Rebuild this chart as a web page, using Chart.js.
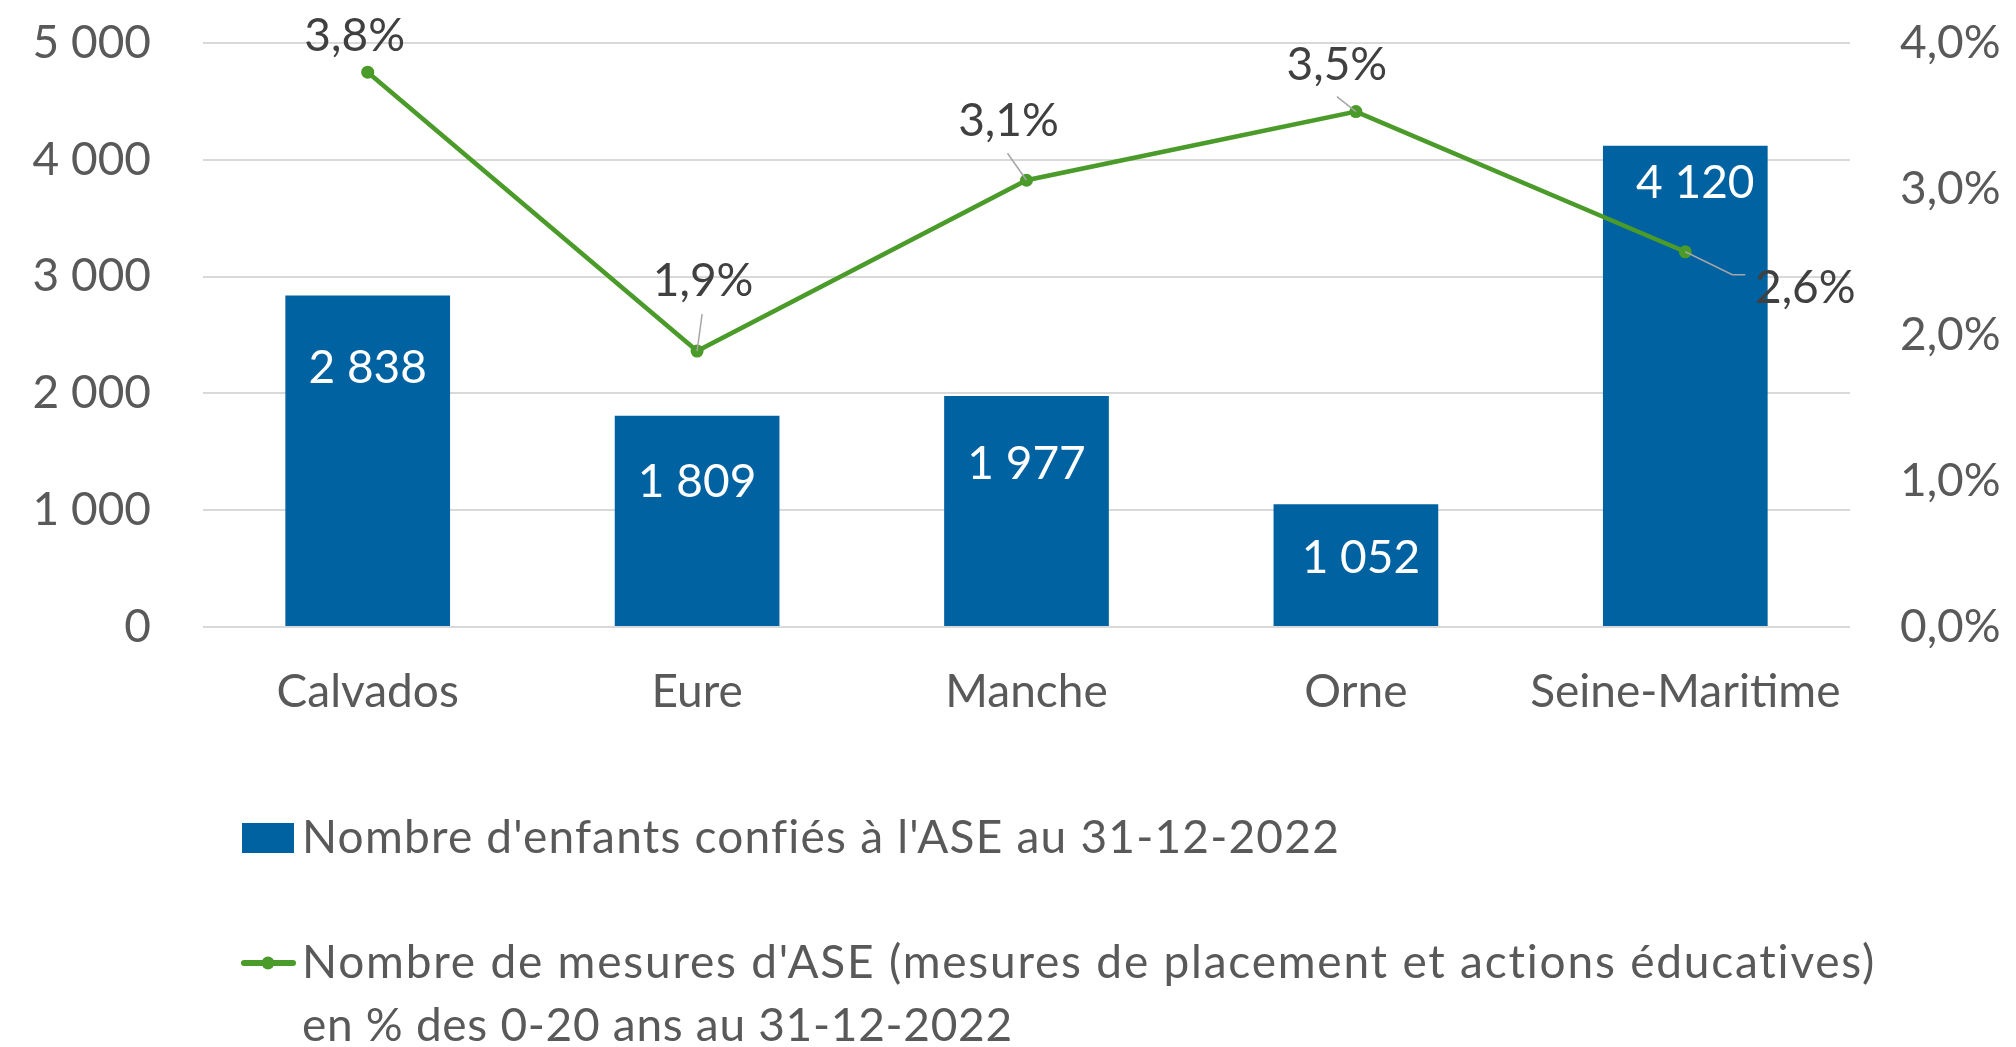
<!DOCTYPE html>
<html lang="fr">
<head>
<meta charset="utf-8">
<title>ASE Normandie</title>
<script src="https://cdn.jsdelivr.net/npm/chart.js@4.4.1/dist/chart.umd.min.js"></script>
<style>
  html, body { margin: 0; padding: 0; background: #ffffff; overflow: hidden; }
  #wrap { width: 2016px; height: 1047px; position: relative; }
  canvas { display: block; }
</style>
</head>
<body>
<div id="wrap"><canvas id="c" width="2016" height="1047"></canvas></div>
<script>
// ---------- DATA ----------
const categories = ['Calvados', 'Eure', 'Manche', 'Orne', 'Seine-Maritime'];
const enfantsConfies = [2838, 1809, 1977, 1052, 4120];
const tauxMesures = [3.8, 1.89, 3.06, 3.53, 2.57]; // en %
const leftTickValues = [0, 1000, 2000, 3000, 4000, 5000];
const rightTickValues = [0, 1, 2, 3, 4];
const barSeriesLabel = "Nombre d'enfants confiés à l'ASE au 31-12-2022";
const lineSeriesLabel = [
  "Nombre de mesures d'ASE (mesures de placement et actions éducatives)",
  "en % des 0-20 ans au 31-12-2022"
];

// ---------- STYLE ----------
const FONT = 'Lato, "Open Sans", sans-serif';
const FONT_SIZE = 46;
const CAP = 33;
const BLUE = '#0062a0';
const GREEN = '#4a9b29';
const AXIS_TEXT = '#595959';
const LABEL_TEXT = '#404040';
const GRID = '#d9d9d9';
// label placement (dx, dy) in pixels
const barLabelOffsets = [[0, 71], [0, 65], [0, 66], [5, 52], [10, 36]];
const lineLabelOffsets = [[-13, -38], [6, -72], [-18, -61], [-19, -48], [120, 35]];
const leaderLines = [null, [[5, -37]], [[-19, -27]], [[-19, -15]], [[47, 23], [60, 23]]];
// legend text boxes: [x, baseline, target width]
const legendTextBoxes = [[302, 853, 1037], [302, 978, 1576], [302, 1041, 711]];

const fmtInt = v => String(v).replace(/\B(?=(\d{3})+(?!\d))/g, ' ');
const fmtPct = v => Number(v).toFixed(1).replace('.', ',') + '%';

function fitText(ctx, text, x, y, width) {
  ctx.save();
  const w0 = ctx.measureText(text).width;
  if ('letterSpacing' in ctx) {
    ctx.letterSpacing = ((width - w0) / text.length).toFixed(2) + 'px';
    ctx.fillText(text, x, y);
  } else {
    ctx.translate(x, y);
    ctx.scale(width / w0, 1);
    ctx.fillText(text, 0, 0);
  }
  ctx.restore();
}

const labelPlugin = {
  id: 'customLabels',
  afterDatasetsDraw(chart) {
    const ctx = chart.ctx;
    ctx.save();
    ctx.font = FONT_SIZE + 'px ' + FONT;
    ctx.textAlign = 'center';
    ctx.textBaseline = 'alphabetic';
    const barMeta = chart.getDatasetMeta(1);
    barMeta.data.forEach((el, i) => {
      const [dx, dy] = barLabelOffsets[i];
      ctx.fillStyle = '#ffffff';
      ctx.fillText(fmtInt(enfantsConfies[i]), el.x + dx, el.y + dy + CAP / 2);
    });
    const lineMeta = chart.getDatasetMeta(0);
    ctx.strokeStyle = '#a6a6a6';
    ctx.lineWidth = 1.5;
    lineMeta.data.forEach((el, i) => {
      const pts = leaderLines[i];
      if (!pts) return;
      ctx.beginPath();
      ctx.moveTo(el.x, el.y);
      pts.forEach(([dx, dy]) => ctx.lineTo(el.x + dx, el.y + dy));
      ctx.stroke();
    });
    lineMeta.data.forEach((el, i) => {
      const [dx, dy] = lineLabelOffsets[i];
      ctx.fillStyle = LABEL_TEXT;
      ctx.fillText(fmtPct(tauxMesures[i]), el.x + dx, el.y + dy + CAP / 2);
    });
    ctx.restore();
  },
  afterDraw(chart) {
    const ctx = chart.ctx;
    ctx.save();
    // legend item 1 : bar
    ctx.fillStyle = BLUE;
    ctx.fillRect(242, 823, 52, 30);
    // legend item 2 : line with marker
    ctx.strokeStyle = GREEN;
    ctx.lineWidth = 6;
    ctx.lineCap = 'round';
    ctx.beginPath();
    ctx.moveTo(244, 963);
    ctx.lineTo(293, 963);
    ctx.stroke();
    ctx.fillStyle = GREEN;
    ctx.beginPath();
    ctx.arc(268, 963, 6.5, 0, Math.PI * 2);
    ctx.fill();
    ctx.font = FONT_SIZE + 'px ' + FONT;
    ctx.fillStyle = AXIS_TEXT;
    ctx.textAlign = 'left';
    ctx.textBaseline = 'alphabetic';
    const texts = [barSeriesLabel, lineSeriesLabel[0], lineSeriesLabel[1]];
    texts.forEach((t, i) => {
      const [x, y, w] = legendTextBoxes[i];
      fitText(ctx, t, x, y, w);
    });
    ctx.restore();
  }
};

function noPad(s) {
  s.paddingTop = 0; s.paddingBottom = 0; s.paddingLeft = 0; s.paddingRight = 0;
}

new Chart(document.getElementById('c'), {
  type: 'bar',
  data: {
    labels: categories,
    datasets: [
      {
        type: 'line',
        label: lineSeriesLabel.join(' '),
        data: tauxMesures,
        yAxisID: 'y1',
        borderColor: GREEN,
        backgroundColor: GREEN,
        borderWidth: 4.5,
        pointRadius: 6.5,
        pointBorderWidth: 0,
        pointBackgroundColor: GREEN,
        tension: 0,
        order: 0
      },
      {
        type: 'bar',
        label: barSeriesLabel,
        data: enfantsConfies,
        yAxisID: 'y',
        backgroundColor: BLUE,
        barPercentage: 0.5,
        categoryPercentage: 1.0,
        order: 1
      }
    ]
  },
  options: {
    responsive: false,
    animation: false,
    devicePixelRatio: 1,
    layout: { padding: { top: 43, left: 0, right: 0, bottom: 0 } },
    font: { family: FONT },
    plugins: { legend: { display: false }, tooltip: { enabled: false } },
    scales: {
      x: {
        grid: { display: false, drawTicks: false },
        border: { display: false },
        ticks: { color: AXIS_TEXT, font: { family: FONT, size: FONT_SIZE }, padding: 38, maxRotation: 0, autoSkip: false },
        afterFit(s) { s.height = 1047 - 627; noPad(s); }
      },
      y: {
        position: 'left',
        min: 0, max: 5000,
        grid: { color: GRID, lineWidth: 2, drawTicks: false },
        border: { display: false },
        ticks: { color: AXIS_TEXT, font: { family: FONT, size: FONT_SIZE }, padding: 52, callback: v => fmtInt(v) },
        afterBuildTicks(s) { s.ticks = leftTickValues.map(v => ({ value: v })); },
        afterFit(s) { s.width = 203; noPad(s); }
      },
      y1: {
        position: 'right',
        min: 0, max: 4,
        grid: { display: false, drawTicks: false },
        border: { display: false },
        ticks: { color: AXIS_TEXT, font: { family: FONT, size: FONT_SIZE }, padding: 50, callback: v => fmtPct(v) },
        afterBuildTicks(s) { s.ticks = rightTickValues.map(v => ({ value: v })); },
        afterFit(s) { s.width = 2016 - 1850; noPad(s); }
      }
    }
  },
  plugins: [labelPlugin]
});
</script>
</body>
</html>
